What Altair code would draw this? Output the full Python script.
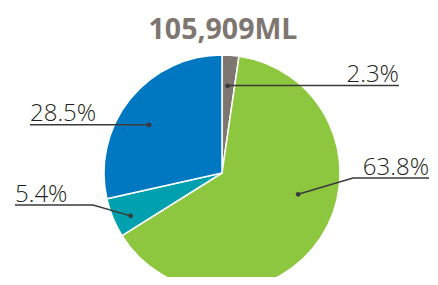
import math
import altair as alt
import pandas as pd

# ---- data ----
title_text = "105,909ML"
labels = ["2.3%", "63.8%", "5.4%", "28.5%"]
values = [2.3, 63.8, 5.4, 28.5]
colors = ["#7d7671", "#8dc63f", "#00a0ae", "#0078c1"]

# ---- layout (pixels in page coords) ----
CX, CY, R = 222, 173, 118
dot_nudge = [-0.4, -17.5, -2.8, -5.3]      # degrees from slice midpoint
dot_rfrac = [0.74, 0.67, 0.855, 0.74]
label_end_x = [399, 429, 15, 30]
label_line_y = [85.5, 178, 205, 124.8]
elbow_x = [None, 353, 93, None]
label_align = ["right", "right", "left", "left"]

W, H = 422, 269
xs = alt.Scale(domain=[8, 8 + W])
ys = alt.Scale(domain=[8 + H, 8])

total = sum(values)
pie_df = pd.DataFrame({"label": labels, "value": values, "idx": list(range(len(values)))})

dots, lines, texts = [], [], []
cum = 0.0
for i, v in enumerate(values):
    mid = (cum + v / 2) / total * 360 + dot_nudge[i]
    cum += v
    a = math.radians(mid)
    dx = CX + R * dot_rfrac[i] * math.sin(a)
    dy = CY - R * dot_rfrac[i] * math.cos(a)
    dots.append({"x": dx, "y": dy})
    pts = [(dx, dy)]
    if elbow_x[i] is not None:
        pts.append((elbow_x[i], label_line_y[i]))
    else:
        pts.append((dx, label_line_y[i]))
    pts.append((label_end_x[i], label_line_y[i]))
    for k, (px, py) in enumerate(pts):
        lines.append({"g": i, "k": k, "x": px, "y": py})
    texts.append({"x": label_end_x[i], "y": label_line_y[i] - 3.5, "t": labels[i], "align": label_align[i]})

dots_df = pd.DataFrame(dots)
lines_df = pd.DataFrame(lines)
texts_df = pd.DataFrame(texts)

pie = alt.Chart(pie_df).mark_arc(radius=R, stroke="white", strokeWidth=1.5).encode(
    theta=alt.Theta("value:Q", stack=True),
    order=alt.Order("idx:Q"),
    color=alt.Color("label:N", scale=alt.Scale(domain=labels, range=colors), legend=None),
    x=alt.value(CX - 8),
    y=alt.value(CY - 8),
)

leader = alt.Chart(lines_df).mark_line(color="#3a3a3a", strokeWidth=1.4).encode(
    x=alt.X("x:Q", scale=xs, axis=None),
    y=alt.Y("y:Q", scale=ys, axis=None),
    detail="g:N",
    order="k:Q",
)

dot = alt.Chart(dots_df).mark_circle(color="#3a3a3a", size=22, opacity=1).encode(
    x=alt.X("x:Q", scale=xs, axis=None),
    y=alt.Y("y:Q", scale=ys, axis=None),
)

def text_layer(align):
    return alt.Chart(texts_df[texts_df["align"] == align]).mark_text(
        align=align, baseline="alphabetic", font="Open Sans", fontSize=24,
        fontWeight=300, color="#231f20",
    ).encode(
        x=alt.X("x:Q", scale=xs, axis=None),
        y=alt.Y("y:Q", scale=ys, axis=None),
        text="t:N",
    )

title_df = pd.DataFrame({"x": [223], "y": [39], "t": [title_text]})
title = alt.Chart(title_df).mark_text(
    align="center", baseline="alphabetic", font="Open Sans", fontSize=28.5,
    fontWeight="bold", color="#7d7671",
).encode(
    x=alt.X("x:Q", scale=xs, axis=None),
    y=alt.Y("y:Q", scale=ys, axis=None),
    text="t:N",
)

chart = alt.layer(pie, leader, dot, text_layer("right"), text_layer("left"), title).properties(
    width=W, height=H, padding=0, autosize=alt.AutoSizeParams(type="none"),
).configure_view(stroke=None)

chart.save("out.html", embed_options={"renderer": "svg", "actions": False})
